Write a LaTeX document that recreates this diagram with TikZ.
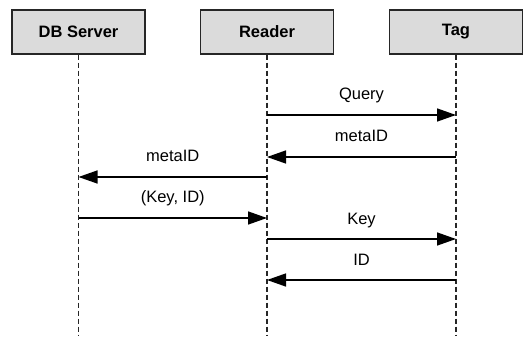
\documentclass[tikz,border=0pt]{standalone}
\usepackage{fontspec}
\setmainfont{Liberation Sans}
\usetikzlibrary{arrows.meta}

\begin{document}
\begin{tikzpicture}[x=1pt,y=-1pt,
    actor/.style={draw=black!85,line width=1.3pt,fill=black!14,minimum width=133pt,minimum height=44pt,font=\bfseries\fontsize{16.5}{18}\selectfont},
    life/.style={line width=1.1pt,black!85,dash pattern=on 5pt off 3pt},
    msg/.style={line width=1.4pt,-{Triangle[length=19pt,width=13pt]}},
    lbl/.style={midway,anchor=base,yshift=15pt,font=\fontsize{16.5}{18}\selectfont}]
    \useasboundingbox (0,0) rectangle (527,339);
    % participants
    \node[actor] (db) at (78.5,32) {DB Server};
    \node[actor] (reader) at (267,32) {Reader};
    \node[actor] (tag) at (456,32) {Tag};
    % lifelines
    \coordinate (db end) at (db.south |- 0,336);
    \coordinate (reader end) at (reader.south |- 0,336);
    \coordinate (tag end) at (tag.south |- 0,336);
    \draw[life] (db.south) -- (db end);
    \draw[life] (reader.south) -- (reader end);
    \draw[life] (tag.south) -- (tag end);
    % points on the lifelines
    \coordinate (r1) at (reader.south |- 0,115); \coordinate (t1) at (tag.south |- 0,115);
    \coordinate (r2) at (reader.south |- 0,157); \coordinate (t2) at (tag.south |- 0,157);
    \coordinate (r3) at (reader.south |- 0,177); \coordinate (d3) at (db.south |- 0,177);
    \coordinate (r4) at (reader.south |- 0,218); \coordinate (d4) at (db.south |- 0,218);
    \coordinate (r5) at (reader.south |- 0,239); \coordinate (t5) at (tag.south |- 0,239);
    \coordinate (r6) at (reader.south |- 0,280); \coordinate (t6) at (tag.south |- 0,280);
    % messages
    \draw[msg] (r1) -- (t1) node[lbl] {Query};
    \draw[msg] (t2) -- (r2) node[lbl] {metaID};
    \draw[msg] (r3) -- (d3) node[lbl] {metaID};
    \draw[msg] (d4) -- (r4) node[lbl] {(Key, ID)};
    \draw[msg] (r5) -- (t5) node[lbl] {Key};
    \draw[msg] (t6) -- (r6) node[lbl] {ID};
\end{tikzpicture}
\end{document}
